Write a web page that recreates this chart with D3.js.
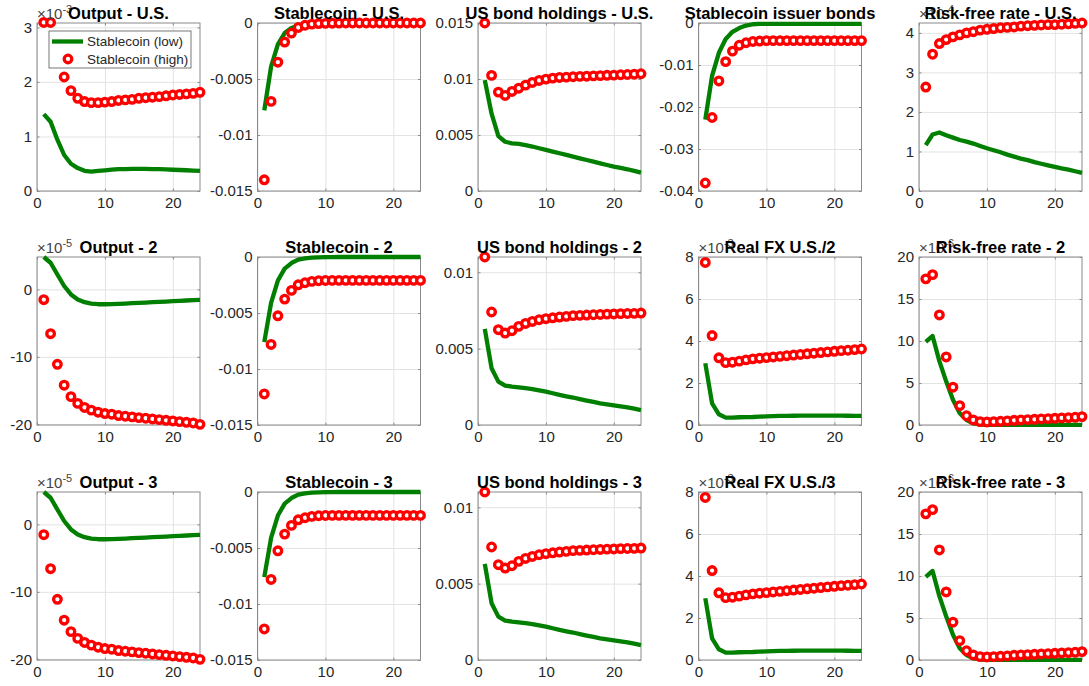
<!DOCTYPE html>
<html lang="en">
<head>
<meta charset="UTF-8">
<title>Stablecoin impulse responses</title>
<script src="https://d3js.org/d3.v7.min.js"></script>
<style>
  body { margin: 0; background: #fff; }
  svg { display: block; font-family: "Liberation Sans", Arial, Helvetica, sans-serif; }
</style>
</head>
<body>
<div id="chart"></div>
<script>
// horizon
const periods = d3.range(1, 25);

// row 1 - U.S.
const outputUSLow  = [1.41,1.27,0.94,0.66,0.50,0.42,0.37,0.355,0.37,0.38,0.39,0.40,0.40,0.405,0.405,0.405,0.40,0.40,0.395,0.39,0.385,0.38,0.375,0.37];
const outputUSHigh = [3.09,3.09,2.50,2.09,1.84,1.70,1.64,1.62,1.62,1.63,1.64,1.66,1.67,1.68,1.70,1.71,1.72,1.73,1.745,1.76,1.77,1.78,1.79,1.81];

const stableUSLow  = [-0.0078,-0.0039,-0.0019,-0.0009,-0.00045,-0.00024,-0.0001,-0.00005,-0.00003,-0.00002,-0.00001,0,0,0,0,0,0,0,0,0,0,0,0,0];
const stableUSHigh = [-0.0140,-0.0070,-0.0035,-0.0017,-0.0009,-0.0004,-0.0002,-0.0001,-0.00005,-0.00003,-0.00002,-0.00001,0,0,0,0,0,0,0,0,0,0,0,0];

const bondUSLow  = [0.0099,0.0069,0.0049,0.0044,0.00426,0.0042,0.0041,0.00397,0.00382,0.00367,0.00352,0.00337,0.00322,0.00307,0.00292,0.00277,0.00262,0.00247,0.00232,0.00218,0.00206,0.00194,0.00179,0.00164];
const bondUSHigh = [0.0150,0.01032,0.00883,0.00853,0.00889,0.00918,0.00945,0.00969,0.00987,0.00999,0.01008,0.01014,0.01017,0.0102,0.01023,0.01025,0.01028,0.0103,0.01033,0.01035,0.01038,0.0104,0.01043,0.01047];

const issuerLow  = [-0.0230,-0.0126,-0.0071,-0.0038,-0.0021,-0.0012,-0.0006,-0.0003,-0.0002,-0.0002,-0.0002,-0.0002,-0.0002,-0.0002,-0.0002,-0.0002,-0.0002,-0.0002,-0.0002,-0.0002,-0.0002,-0.0002,-0.0002,-0.0002];
const issuerHigh = [-0.0381,-0.0225,-0.0138,-0.0092,-0.0067,-0.0053,-0.0047,-0.0044,-0.0043,-0.0042,-0.0042,-0.0042,-0.0042,-0.0042,-0.0042,-0.0042,-0.0042,-0.0042,-0.0042,-0.0042,-0.0042,-0.0042,-0.0042,-0.0042];

const rfUSLow  = [1.16,1.43,1.48,1.41,1.35,1.29,1.25,1.20,1.14,1.08,1.03,0.98,0.92,0.87,0.82,0.78,0.73,0.69,0.65,0.61,0.57,0.54,0.50,0.46];
const rfUSHigh = [2.63,3.46,3.73,3.83,3.90,3.95,4.00,4.03,4.07,4.09,4.11,4.13,4.14,4.15,4.17,4.18,4.19,4.20,4.21,4.21,4.22,4.23,4.24,4.25];

// row 2 - country 2
const output2Low  = [4.8,3.95,2.2,0.5,-0.75,-1.5,-1.9,-2.1,-2.2,-2.2,-2.18,-2.15,-2.1,-2.05,-2.0,-1.95,-1.9,-1.85,-1.8,-1.75,-1.7,-1.65,-1.6,-1.55];
const output2High = [-1.53,-6.57,-11.1,-14.2,-15.9,-16.9,-17.5,-17.9,-18.2,-18.4,-18.5,-18.7,-18.8,-18.9,-19.0,-19.1,-19.2,-19.3,-19.4,-19.5,-19.6,-19.7,-19.8,-20.0];

const stable2Low  = [-0.0076,-0.0041,-0.0021,-0.00104,-0.00054,-0.00024,-0.00012,-0.00006,-0.00003,-0.00002,-0.00001,0,0,0,0,0,0,0,0,0,0,0,0,0];
const stable2High = [-0.01223,-0.00781,-0.00525,-0.00376,-0.00298,-0.00248,-0.0023,-0.00218,-0.00212,-0.0021,-0.00209,-0.00209,-0.00209,-0.00209,-0.00209,-0.00209,-0.00209,-0.00209,-0.00209,-0.00209,-0.00209,-0.00209,-0.00209,-0.00209];

const bond2Low  = [0.0063,0.00372,0.00284,0.00258,0.00252,0.00247,0.00241,0.00235,0.00227,0.00219,0.00208,0.00197,0.00188,0.0018,0.0017,0.0016,0.00151,0.00142,0.00135,0.00129,0.00122,0.00116,0.00107,0.00098];
const bond2High = [0.0110,0.0074,0.00624,0.00602,0.00617,0.00646,0.00665,0.00678,0.00689,0.00696,0.00702,0.00707,0.00711,0.00716,0.00718,0.0072,0.00722,0.00724,0.00726,0.00727,0.00729,0.0073,0.00731,0.00733];

const fx2Low  = [2.94,1.03,0.51,0.35,0.35,0.37,0.375,0.38,0.395,0.41,0.42,0.43,0.435,0.44,0.45,0.45,0.45,0.45,0.45,0.45,0.445,0.44,0.435,0.43];
const fx2High = [7.74,4.26,3.20,2.97,2.99,3.04,3.10,3.15,3.18,3.21,3.24,3.27,3.30,3.33,3.36,3.39,3.42,3.45,3.48,3.51,3.54,3.56,3.59,3.62];

const rf2Low  = [9.9,10.6,7.6,5.2,3.0,1.4,0.6,0.2,0.06,0.02,0.01,0.01,0.01,0.01,0.01,0.01,0.01,0.01,0.01,0.01,0.01,0.01,0.01,0.01];
const rf2High = [17.4,17.9,13.1,8.1,4.5,2.3,1.1,0.6,0.4,0.36,0.4,0.44,0.48,0.56,0.6,0.64,0.68,0.72,0.76,0.8,0.84,0.88,0.92,1.0];

// row 3 - country 3 (same responses as country 2)
const output3Low = output2Low, output3High = output2High;
const stable3Low = stable2Low, stable3High = stable2High;
const bond3Low = bond2Low, bond3High = bond2High;
const fx3Low = fx2Low, fx3High = fx2High;
const rf3Low = rf2Low, rf3High = rf2High;

const xTicks = [0, 10, 20];

const panels = [
  {title: "Output - U.S.", exp: "-3", ylim: [0, 3.08], yTicks: [0,1,2,3], low: outputUSLow, high: outputUSHigh, legend: true},
  {title: "Stablecoin - U.S.", ylim: [-0.015, 0], yTicks: [-0.015,-0.01,-0.005,0], low: stableUSLow, high: stableUSHigh},
  {title: "US bond holdings - U.S.", ylim: [0, 0.015], yTicks: [0,0.005,0.01,0.015], low: bondUSLow, high: bondUSHigh},
  {title: "Stablecoin issuer bonds", ylim: [-0.04, 0], yTicks: [-0.04,-0.03,-0.02,-0.01,0], low: issuerLow, high: issuerHigh},
  {title: "Risk-free rate - U.S.", exp: "-4", ylim: [0, 4.25], yTicks: [0,1,2,3,4], low: rfUSLow, high: rfUSHigh},

  {title: "Output - 2", exp: "-5", ylim: [-20.1, 4.8], yTicks: [-20,-10,0], low: output2Low, high: output2High},
  {title: "Stablecoin - 2", ylim: [-0.015, 0], yTicks: [-0.015,-0.01,-0.005,0], low: stable2Low, high: stable2High},
  {title: "US bond holdings - 2", ylim: [0, 0.011], yTicks: [0,0.005,0.01], low: bond2Low, high: bond2High},
  {title: "Real FX U.S./2", exp: "-3", ylim: [0, 8], yTicks: [0,2,4,6,8], low: fx2Low, high: fx2High},
  {title: "Risk-free rate - 2", exp: "-6", ylim: [0, 20], yTicks: [0,5,10,15,20], low: rf2Low, high: rf2High},

  {title: "Output - 3", exp: "-5", ylim: [-20.1, 4.8], yTicks: [-20,-10,0], low: output3Low, high: output3High},
  {title: "Stablecoin - 3", ylim: [-0.015, 0], yTicks: [-0.015,-0.01,-0.005,0], low: stable3Low, high: stable3High},
  {title: "US bond holdings - 3", ylim: [0, 0.011], yTicks: [0,0.005,0.01], low: bond3Low, high: bond3High},
  {title: "Real FX U.S./3", exp: "-3", ylim: [0, 8], yTicks: [0,2,4,6,8], low: fx3Low, high: fx3High},
  {title: "Risk-free rate - 3", exp: "-6", ylim: [0, 20], yTicks: [0,5,10,15,20], low: rf3Low, high: rf3High}
];

const width = 1089, height = 686;
const lefts = [37, 257.5, 478, 698.5, 919];
const tops = [23, 257, 492];
const W = 163, H = 168;
const green = "#007f00", red = "#ff0000";
const tickColor = "#262626";

const svg = d3.select("#chart").append("svg").attr("width", width).attr("height", height);

panels.forEach((p, i) => {
  const col = i % 5, row = Math.floor(i / 5);
  const g = svg.append("g").attr("transform", `translate(${lefts[col]},${tops[row]})`);
  const x = d3.scaleLinear().domain([0, 24]).range([0, W]);
  const y = d3.scaleLinear().domain(p.ylim).range([H, 0]);

  g.append("rect").attr("width", W).attr("height", H).attr("fill", "#fff");

  // grid
  g.append("g").attr("transform", `translate(0,${H})`)
    .call(d3.axisBottom(x).tickValues(xTicks).tickSize(-H).tickFormat(""))
    .call(a => a.select(".domain").remove())
    .selectAll("line").attr("stroke", "#e3e3e3");
  g.append("g")
    .call(d3.axisLeft(y).tickValues(p.yTicks).tickSize(-W).tickFormat(""))
    .call(a => a.select(".domain").remove())
    .selectAll("line").attr("stroke", "#e3e3e3");

  // axes with inward ticks
  const xa = g.append("g").attr("transform", `translate(0,${H})`)
    .call(d3.axisBottom(x).tickValues(xTicks).tickSizeInner(-2.5).tickSizeOuter(0).tickPadding(6).tickFormat(d => String(d)));
  const ya = g.append("g")
    .call(d3.axisLeft(y).tickValues(p.yTicks).tickSizeInner(-2.5).tickSizeOuter(0).tickPadding(5).tickFormat(d => String(d)));
  g.append("g").attr("transform", `translate(${W},0)`)
    .call(d3.axisRight(y).tickValues(p.yTicks).tickSizeInner(-2.5).tickSizeOuter(0).tickFormat(""));
  g.append("g")
    .call(d3.axisTop(x).tickValues(xTicks).tickSizeInner(-2.5).tickSizeOuter(0).tickFormat(""));
  g.selectAll(".domain").remove();
  g.selectAll(".tick line").filter(function() { return this.getAttribute("stroke") !== "#e3e3e3"; })
    .attr("stroke", "#8a8a8a");
  [xa, ya].forEach(a => a.attr("font-family", null).attr("font-size", 15)
    .selectAll("text").attr("fill", tickColor));

  g.append("rect").attr("width", W).attr("height", H)
    .attr("fill", "none").attr("stroke", "#8a8a8a").attr("stroke-width", 1);

  // low: green line
  g.append("path")
    .datum(p.low)
    .attr("fill", "none")
    .attr("stroke", green)
    .attr("stroke-width", 4.3)
    .attr("stroke-linejoin", "round")
    .attr("d", d3.line().x((d, k) => x(periods[k])).y(d => y(d)));

  // high: red circles
  g.append("g").selectAll("circle")
    .data(p.high)
    .enter()
    .append("circle")
    .attr("cx", (d, k) => x(periods[k]))
    .attr("cy", d => y(d))
    .attr("r", 3.8)
    .attr("fill", "#fff")
    .attr("stroke", red)
    .attr("stroke-width", 3.3);

  // exponent label
  if (p.exp) {
    const t = g.append("text").attr("x", 0).attr("y", -4)
      .attr("font-size", 15).attr("fill", "#444");
    t.append("tspan").text("\u00d710");
    t.append("tspan").attr("dy", -6).attr("font-size", 11).text(p.exp);
  }

  // title
  g.append("text")
    .attr("x", W / 2).attr("y", -4)
    .attr("text-anchor", "middle")
    .attr("font-size", 16.5)
    .attr("font-weight", "bold")
    .attr("fill", "#000")
    .text(p.title);

  if (p.legend) {
    const lg = g.append("g").attr("transform", "translate(12,8)");
    lg.append("rect").attr("width", 142).attr("height", 37)
      .attr("fill", "#fff").attr("stroke", "#555").attr("stroke-width", 0.8);
    lg.append("line").attr("x1", 3).attr("x2", 34).attr("y1", 10.5).attr("y2", 10.5)
      .attr("stroke", green).attr("stroke-width", 4.3);
    lg.append("circle").attr("cx", 19).attr("cy", 28).attr("r", 3.8)
      .attr("fill", "#fff").attr("stroke", red).attr("stroke-width", 3.3);
    lg.append("text").attr("x", 38).attr("y", 15).attr("font-size", 13.5).attr("fill", tickColor)
      .text("Stablecoin (low)");
    lg.append("text").attr("x", 38).attr("y", 32.5).attr("font-size", 13.5).attr("fill", tickColor)
      .text("Stablecoin (high)");
  }
});
</script>
</body>
</html>
